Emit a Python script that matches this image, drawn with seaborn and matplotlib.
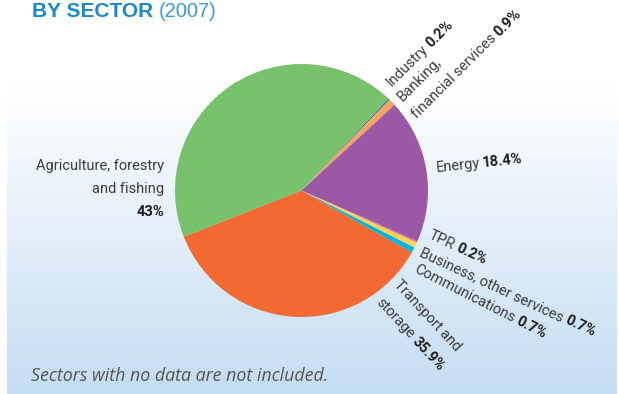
import numpy as np
import matplotlib
matplotlib.use("Agg")
import matplotlib.pyplot as plt
import seaborn as sns
from matplotlib.colors import LinearSegmentedColormap

# data
sectors = ["Industry", "Banking, financial services", "Energy", "TPR",
           "Business, other services", "Communications",
           "Transport and storage", "Agriculture, forestry and fishing"]
shares = [0.2, 0.9, 18.4, 0.2, 0.7, 0.7, 35.9, 43.0]
share_labels = ["0.2%", "0.9%", "18.4%", "0.2%", "0.7%", "0.7%", "35.9%", "43%"]
colors = ["#1b75bc", "#f7a35c", "#9a58a5", "#e5609f",
          "#fcd450", "#00b5e2", "#f26a32", "#77c26a"]

W, H = 619, 394

sns.set_style("white")
plt.rcParams["font.family"] = ["Roboto", "DejaVu Sans"]

fig = plt.figure(figsize=(W / 100, H / 100), dpi=100)
ax = fig.add_axes([0, 0, 1, 1])

# light blue panel behind the pie
cmap = LinearSegmentedColormap.from_list("panel", ["#ffffff", "#c4ddf2"])
grad = np.linspace(1, 0, 256)[:, None]
ax.imshow(grad, cmap=cmap, extent=(7, 617, 0, H - 85), origin="lower",
          aspect="auto", zorder=0)

ax.pie(shares, colors=sns.color_palette(colors), startangle=46.6,
       counterclock=False, center=(301.5, H - 190.5), radius=126.5,
       wedgeprops=dict(linewidth=0), frame=True)

ax.set_xlim(0, W)
ax.set_ylim(0, H)
ax.set_aspect("equal")
ax.axis("off")

fig.canvas.draw()
renderer = fig.canvas.get_renderer()
FS = 10.5
REG = "#3c3c3c"
BLD = "#1e1e1e"


def text_width(s, **kw):
    t = ax.text(0, 0, s, fontsize=FS, **kw)
    w = t.get_window_extent(renderer).width
    t.remove()
    return w


def line(x, y, rot, reg, bold=None):
    # x, y: baseline-left in pixel coords measured from the top
    X, Y = x, H - y
    ax.text(X, Y, reg, fontsize=FS, color=REG, rotation=rot,
            rotation_mode="anchor", ha="left", va="baseline", zorder=3)
    if bold:
        w = text_width(reg) + FS * 0.3
        th = np.radians(rot)
        ax.text(X + w * np.cos(th), Y + w * np.sin(th), bold, fontsize=FS,
                fontweight="bold", color=BLD, rotation=rot,
                rotation_mode="anchor", ha="left", va="baseline", zorder=3)


line(392, 87, 45, "Industry", share_labels[0])
line(403, 102, 45, "Banking,")
line(417, 119, 45, "financial services", share_labels[1])
line(436, 172, 6, "Energy", share_labels[2])
line(428, 238, -25, "TPR", share_labels[3])
line(419, 255, -25, "Business, other services", share_labels[4])
line(413, 272, -27, "Communications", share_labels[5])
line(393, 285, -47, "Transport and")
line(376, 303, -47, "storage", share_labels[6])

# agriculture label, right aligned
for txt, yy, wt, c in [("Agriculture, forestry", 170, "normal", REG),
                       ("and fishing", 193, "normal", REG),
                       (share_labels[7], 216, "bold", BLD)]:
    ax.text(164, H - yy, txt, fontsize=FS, fontweight=wt, color=c,
            ha="right", va="baseline", zorder=3)

# title
t1 = ax.text(32, H - 17, "BY SECTOR", fontsize=15, fontweight="bold",
             color="#1a87cf", family=["Liberation Sans", "DejaVu Sans"],
             ha="left", va="baseline")
tw = t1.get_window_extent(renderer).width
ax.text(32 + tw + 6, H - 17, "(2007)", fontsize=14.5, color="#3d9ad8",
        family=["Liberation Sans", "DejaVu Sans"], ha="left", va="baseline")

ax.text(31, H - 381, "Sectors with no data are not included.", fontsize=12.8,
        style="italic", color="#555555", family=["Open Sans", "DejaVu Sans"],
        ha="left", va="baseline")

fig.savefig("out.png", dpi=100)
